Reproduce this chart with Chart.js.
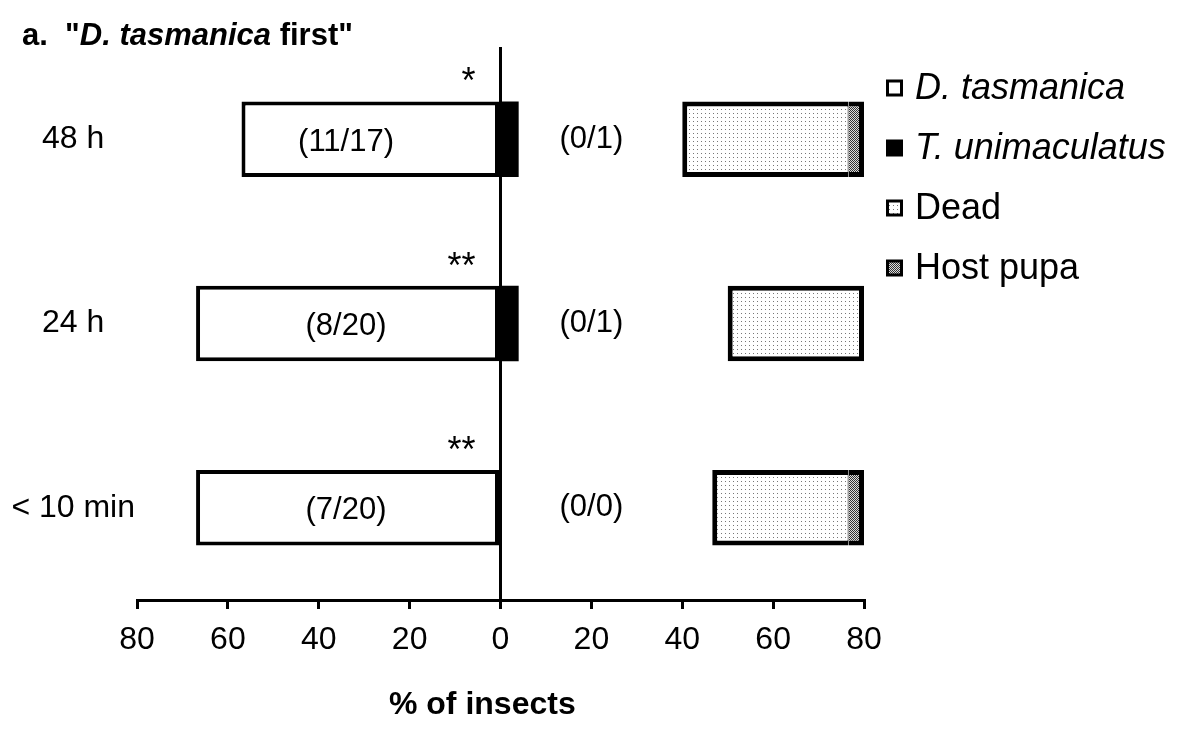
<!DOCTYPE html>
<html>
<head>
<meta charset="utf-8">
<script src="https://cdn.jsdelivr.net/npm/chart.js@4.4.0/dist/chart.umd.min.js"></script>
<style>
  html, body { margin: 0; padding: 0; background: #fff; }
</style>
</head>
<body>
<canvas id="chart" width="1192" height="731"></canvas>
<script>
// values (% of insects)
const categories = ["48 h", "24 h", "< 10 min"];
const tasmanica = [-57, -67, -67];
const unimaculatus = [4, 4, 0];
const dead = [36.6, 30, 30];
const hostPupa = [3.4, 0, 3.4];
const countLabels = ["(11/17)", "(8/20)", "(7/20)"];
const rightLabels = ["(0/1)", "(0/1)", "(0/0)"];
const signif = ["*", "**", "**"];
const xTicks = [-80, -60, -40, -20, 0, 20, 40, 60, 80];

const legendNames = ["D. tasmanica", "T. unimaculatus", "Dead", "Host pupa"];
const legendItalic = [true, true, false, false];

const family = "'Liberation Sans', Arial, sans-serif";
const xMin = -80, xMax = 80;

function makePattern(bg, fg, cells) {
    const c = document.createElement("canvas");
    c.width = 4;
    c.height = 4;
    const g = c.getContext("2d");
    g.fillStyle = bg;
    g.fillRect(0, 0, 4, 4);
    g.fillStyle = fg;
    cells.forEach(p => g.fillRect(p[0], p[1], 1, 1));
    return g.createPattern(c, "repeat");
}

const dotted = makePattern("#fff", "#777", [[1, 1]]);
const hatched = makePattern("#ddd", "#333", [[0, 0], [2, 0], [1, 1], [3, 1], [0, 2], [2, 2], [1, 3], [3, 3]]);

// right hand bars are anchored at the end of the axis
const deadRanges = dead.map((v, i) => [xMax - hostPupa[i] - v, xMax - hostPupa[i]]);
const hostRanges = hostPupa.map(v => v > 0 ? [xMax - v, xMax] : null);

const annotate = {
    id: "annotate",
    afterDatasetsDraw(chart) {
        const ctx = chart.ctx;
        const x = chart.scales.x;
        const y = chart.scales.y;
        const bars = chart.getDatasetMeta(0).data;

        ctx.save();
        ctx.fillStyle = "#000";
        categories.forEach((c, i) => {
            const yc = y.getPixelForValue(i);
            ctx.font = "31px " + family;
            ctx.textAlign = "center";
            ctx.textBaseline = "middle";
            ctx.fillText(countLabels[i], x.getPixelForValue(-34), yc + 3);
            ctx.fillText(rightLabels[i], x.getPixelForValue(20), yc);

            const top = yc - bars[i].height / 2;
            ctx.font = "36px " + family;
            ctx.textAlign = "right";
            ctx.textBaseline = "alphabetic";
            ctx.fillText(signif[i], x.getPixelForValue(-5.5), top - 8);
        });

        // x axis title, set a little left of the zero line as in the figure
        ctx.font = "bold 32px " + family;
        ctx.textAlign = "center";
        ctx.textBaseline = "middle";
        ctx.fillText("% of insects", x.getPixelForValue(-4), 705);
        ctx.restore();
    },
    afterDraw(chart) {
        const ctx = chart.ctx;
        const sets = chart.data.datasets;
        ctx.save();

        // panel title
        ctx.fillStyle = "#000";
        ctx.textBaseline = "alphabetic";
        ctx.textAlign = "left";
        let tx = 22;
        const parts = [["a.  \"", "bold"], ["D. tasmanica", "italic bold"], [" first\"", "bold"]];
        parts.forEach(p => {
            ctx.font = p[1] + " 31px " + family;
            ctx.fillText(p[0], tx, 45);
            tx += ctx.measureText(p[0]).width;
        });

        // legend
        legendNames.forEach((name, i) => {
            const yc = 88 + i * 60;
            const bx = 886, s = 17;
            ctx.fillStyle = "#000";
            ctx.fillRect(bx, yc - s / 2, s, s);
            if (i !== 1) {
                ctx.fillStyle = sets[i].backgroundColor;
                ctx.fillRect(bx + 3, yc - s / 2 + 3, s - 6, s - 6);
            }
            ctx.fillStyle = "#000";
            ctx.font = (legendItalic[i] ? "italic " : "") + "36px " + family;
            ctx.textBaseline = "middle";
            ctx.fillText(name, bx + 29, yc + 1);
        });
        ctx.restore();
    }
};

const chart = new Chart(document.getElementById("chart"), {
    type: "bar",
    data: {
        labels: categories,
        datasets: [{
            label: legendNames[0],
            data: tasmanica,
            backgroundColor: "#fff",
            borderColor: "#000",
            borderWidth: 4,
            borderSkipped: false
        }, {
            label: legendNames[1],
            data: unimaculatus.map(v => v || null),
            backgroundColor: "#000",
            borderWidth: 0
        }, {
            label: legendNames[2],
            data: deadRanges,
            backgroundColor: dotted,
            borderColor: "#000",
            borderWidth: c => ({ top: 5, bottom: 5, left: 5, right: hostPupa[c.dataIndex] > 0 ? 1 : 5 }),
            borderSkipped: false
        }, {
            label: legendNames[3],
            data: hostRanges,
            backgroundColor: hatched,
            borderColor: "#000",
            borderWidth: { top: 5, bottom: 5, left: 0, right: 5 },
            borderSkipped: false
        }]
    },
    options: {
        indexAxis: "y",
        responsive: false,
        animation: false,
        events: [],
        layout: { padding: { top: 47, right: 328, left: 0, bottom: 0 } },
        datasets: { bar: { barPercentage: 0.41, categoryPercentage: 1 } },
        plugins: {
            legend: { display: false },
            tooltip: { enabled: false }
        },
        scales: {
            x: {
                min: xMin,
                max: xMax,
                afterBuildTicks: s => { s.ticks = xTicks.map(v => ({ value: v })); },
                afterFit: s => { s.height = 131; },
                border: { color: "#000", width: 3 },
                grid: {
                    color: c => (c.tick && c.tick.value === 0) ? "#000" : "rgba(0,0,0,0)",
                    tickColor: "#000",
                    lineWidth: 3,
                    tickWidth: 3,
                    tickLength: 9
                },
                ticks: {
                    color: "#000",
                    font: { family: family, size: 32 },
                    padding: 12,
                    maxRotation: 0,
                    autoSkip: false,
                    callback: v => Math.abs(v)
                },
                title: { display: false }
            },
            y: {
                stacked: true,
                afterFit: s => { s.width = 137; },
                border: { display: false },
                grid: { display: false },
                ticks: {
                    color: "#000",
                    font: { family: family, size: 32 },
                    crossAlign: "center",
                    padding: -6
                }
            }
        }
    },
    plugins: [annotate]
});
</script>
</body>
</html>
